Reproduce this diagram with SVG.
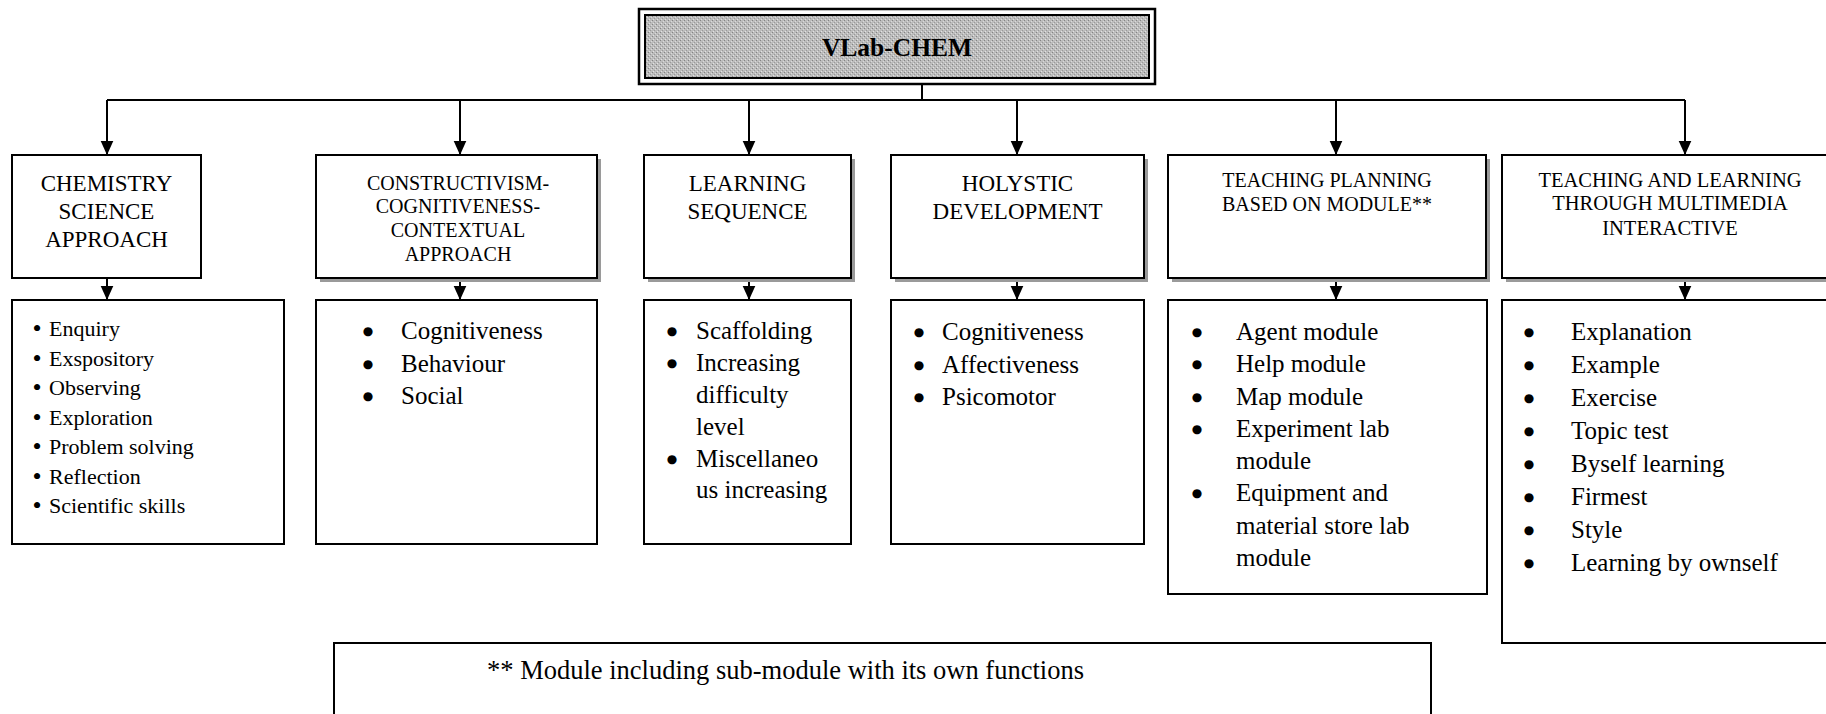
<svg xmlns="http://www.w3.org/2000/svg" width="1826" height="714" viewBox="0 0 1826 714">
<style>
.box{fill:#fff;stroke:#000;stroke-width:2}
.shadow{fill:#9a9a9a}
.hd{font-family:"Liberation Serif",serif;text-anchor:middle;fill:#000}
.li{font-family:"Liberation Serif",serif;fill:#000}
.bu{font-family:"Liberation Serif",serif;fill:#000;text-anchor:middle}
.bb{font-family:"DejaVu Sans",sans-serif;fill:#000;text-anchor:middle;font-size:12px}
.con{stroke:#000;stroke-width:2;fill:none}
</style>
<defs>
<marker id="ah" viewBox="0 0 10 10" refX="10" refY="5" markerWidth="14" markerHeight="14" markerUnits="userSpaceOnUse" orient="auto">
<path d="M0,0.5 L10,5 L0,9.5 z" fill="#000"/>
</marker>
<pattern id="grain" width="4" height="4" patternUnits="userSpaceOnUse">
<rect width="4" height="4" fill="#bcbcbc"/>
<rect x="0" y="0" width="1" height="1" fill="#848484"/>
<rect x="2" y="2" width="1" height="1" fill="#9a9a9a"/>
<rect x="3" y="1" width="1" height="1" fill="#dadada"/>
<rect x="1" y="3" width="1" height="1" fill="#e2e2e2"/>
</pattern>
</defs>
<rect width="1826" height="714" fill="#fff"/>

<g id="root">
<rect x="639" y="9" width="516" height="75" fill="#fff" stroke="#000" stroke-width="2.5"/>
<rect x="645" y="15" width="504" height="63" fill="url(#grain)" stroke="#000" stroke-width="2"/>
<text x="897" y="56" class="hd" font-size="25.5" font-weight="bold">VLab-CHEM</text>
</g>

<g id="connectors">
<path class="con" d="M922,84 V100 M107,100 H1685"/>
<path class="con" d="M107,100 V155" marker-end="url(#ah)"/>
<path class="con" d="M460,100 V155" marker-end="url(#ah)"/>
<path class="con" d="M749,100 V155" marker-end="url(#ah)"/>
<path class="con" d="M1017,100 V155" marker-end="url(#ah)"/>
<path class="con" d="M1336,100 V155" marker-end="url(#ah)"/>
<path class="con" d="M1685,100 V155" marker-end="url(#ah)"/>
<path class="con" d="M107,278 V300" marker-end="url(#ah)"/>
<path class="con" d="M460,282 V300" marker-end="url(#ah)"/>
<path class="con" d="M749,282 V300" marker-end="url(#ah)"/>
<path class="con" d="M1017,282 V300" marker-end="url(#ah)"/>
<path class="con" d="M1336,282 V300" marker-end="url(#ah)"/>
<path class="con" d="M1685,282 V300" marker-end="url(#ah)"/>
</g>

<g id="h1">
<rect class="box" x="12" y="155" width="189" height="123"/>
<text class="hd" font-size="23" x="106.5" y="191">CHEMISTRY</text>
<text class="hd" font-size="23" x="106.5" y="219">SCIENCE</text>
<text class="hd" font-size="23" x="106.5" y="247">APPROACH</text>
</g>

<g id="h2">
<rect class="shadow" x="320" y="159" width="281" height="123"/>
<rect class="box" x="316" y="155" width="281" height="123"/>
<text class="hd" font-size="20" x="458" y="190">CONSTRUCTIVISM-</text>
<text class="hd" font-size="20" x="458" y="213">COGNITIVENESS-</text>
<text class="hd" font-size="20" x="458" y="237">CONTEXTUAL</text>
<text class="hd" font-size="20" x="458" y="261">APPROACH</text>
</g>

<g id="h3">
<rect class="shadow" x="648" y="159" width="207" height="123"/>
<rect class="box" x="644" y="155" width="207" height="123"/>
<text class="hd" font-size="23" x="747.5" y="191">LEARNING</text>
<text class="hd" font-size="23" x="747.5" y="219">SEQUENCE</text>
</g>

<g id="h4">
<rect class="shadow" x="895" y="159" width="253" height="123"/>
<rect class="box" x="891" y="155" width="253" height="123"/>
<text class="hd" font-size="23" x="1017.5" y="191">HOLYSTIC</text>
<text class="hd" font-size="23" x="1017.5" y="219">DEVELOPMENT</text>
</g>

<g id="h5">
<rect class="shadow" x="1172" y="159" width="318" height="123"/>
<rect class="box" x="1168" y="155" width="318" height="123"/>
<text class="hd" font-size="20" x="1327" y="187">TEACHING PLANNING</text>
<text class="hd" font-size="20" x="1327" y="211">BASED ON MODULE**</text>
</g>

<g id="h6">
<rect class="shadow" x="1506" y="159" width="340" height="123"/>
<rect class="box" x="1502" y="155" width="340" height="123"/>
<text class="hd" font-size="20.5" x="1670" y="187">TEACHING AND LEARNING</text>
<text class="hd" font-size="20.5" x="1670" y="210">THROUGH MULTIMEDIA</text>
<text class="hd" font-size="20.5" x="1670" y="235">INTERACTIVE</text>
</g>

<g id="l1">
<rect class="box" x="12" y="300" width="272" height="244"/>
<g class="bu" font-size="26">
<text x="37" y="337">•</text><text x="37" y="366.5">•</text><text x="37" y="396">•</text><text x="37" y="425.5">•</text><text x="37" y="455">•</text><text x="37" y="484.5">•</text><text x="37" y="514">•</text>
</g>
<g class="li" font-size="22">
<text x="49" y="336">Enquiry</text>
<text x="49" y="365.5">Exspository</text>
<text x="49" y="395">Observing</text>
<text x="49" y="424.5">Exploration</text>
<text x="49" y="454">Problem solving</text>
<text x="49" y="483.5">Reflection</text>
<text x="49" y="513">Scientific skills</text>
</g>
</g>

<g id="l2">
<rect class="box" x="316" y="300" width="281" height="244"/>
<g class="bb"><text x="368" y="335">●</text><text x="368" y="368">●</text><text x="368" y="400">●</text></g>
<g class="li" font-size="25">
<text x="401" y="339">Cognitiveness</text>
<text x="401" y="372">Behaviour</text>
<text x="401" y="404">Social</text>
</g>
</g>

<g id="l3">
<rect class="box" x="644" y="300" width="207" height="244"/>
<g class="bb"><text x="672" y="335">●</text><text x="672" y="367">●</text><text x="672" y="463">●</text></g>
<g class="li" font-size="25">
<text x="696" y="339">Scaffolding</text>
<text x="696" y="371">Increasing</text>
<text x="696" y="403">difficulty</text>
<text x="696" y="435">level</text>
<text x="696" y="467">Miscellaneo</text>
<text x="696" y="498">us increasing</text>
</g>
</g>

<g id="l4">
<rect class="box" x="891" y="300" width="253" height="244"/>
<g class="bb"><text x="919" y="336">●</text><text x="919" y="368.5">●</text><text x="919" y="401">●</text></g>
<g class="li" font-size="25">
<text x="942" y="340">Cognitiveness</text>
<text x="942" y="372.5">Affectiveness</text>
<text x="942" y="405">Psicomotor</text>
</g>
</g>

<g id="l5">
<rect class="box" x="1168" y="300" width="319" height="294"/>
<g class="bb"><text x="1197" y="336">●</text><text x="1197" y="368">●</text><text x="1197" y="400.5">●</text><text x="1197" y="433">●</text><text x="1197" y="497">●</text></g>
<g class="li" font-size="25">
<text x="1236" y="340">Agent module</text>
<text x="1236" y="372">Help module</text>
<text x="1236" y="404.5">Map module</text>
<text x="1236" y="437">Experiment lab</text>
<text x="1236" y="469">module</text>
<text x="1236" y="501">Equipment and</text>
<text x="1236" y="534">material store lab</text>
<text x="1236" y="566">module</text>
</g>
</g>

<g id="l6">
<rect class="box" x="1502" y="300" width="340" height="343"/>
<g class="bb"><text x="1529" y="336">●</text><text x="1529" y="369">●</text><text x="1529" y="402">●</text><text x="1529" y="435">●</text><text x="1529" y="468">●</text><text x="1529" y="501">●</text><text x="1529" y="534">●</text><text x="1529" y="567">●</text></g>
<g class="li" font-size="25">
<text x="1571" y="340">Explanation</text>
<text x="1571" y="373">Example</text>
<text x="1571" y="406">Exercise</text>
<text x="1571" y="439">Topic test</text>
<text x="1571" y="472">Byself learning</text>
<text x="1571" y="505">Firmest</text>
<text x="1571" y="538">Style</text>
<text x="1571" y="571">Learning by ownself</text>
</g>
</g>

<g id="note">
<rect class="box" x="334" y="643" width="1097" height="90"/>
<text class="li" font-size="26.5" x="487" y="679">**  Module including sub-module with its own functions</text>
</g>
</svg>
